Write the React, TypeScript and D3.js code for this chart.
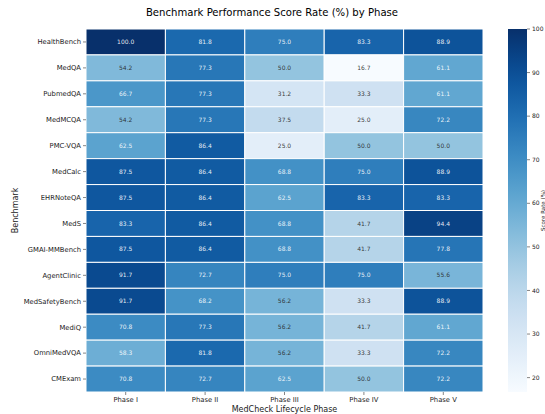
import React from "react";
import * as d3 from "d3";

const benchmarks = ["HealthBench","MedQA","PubmedQA","MedMCQA","PMC-VQA","MedCalc","EHRNoteQA","MedS","GMAI-MMBench","AgentClinic","MedSafetyBench","MediQ","OmniMedVQA","CMExam"];
const phases = ["Phase I","Phase II","Phase III","Phase IV","Phase V"];
const phaseI = [100.0,54.2,66.7,54.2,62.5,87.5,87.5,83.3,87.5,91.7,91.7,70.8,58.3,70.8];
const phaseII = [81.8,77.3,77.3,77.3,86.4,86.4,86.4,86.4,86.4,72.7,68.2,77.3,81.8,72.7];
const phaseIII = [75.0,50.0,31.2,37.5,25.0,68.8,62.5,68.8,68.8,75.0,56.2,56.2,56.2,62.5];
const phaseIV = [83.3,16.7,33.3,25.0,50.0,75.0,83.3,41.7,41.7,75.0,33.3,41.7,33.3,50.0];
const phaseV = [88.9,61.1,61.1,72.2,50.0,88.9,83.3,94.4,77.8,55.6,88.9,61.1,72.2,72.2];
const colorTicks = [20,30,40,50,60,70,80,90,100];

const series = [phaseI, phaseII, phaseIII, phaseIV, phaseV];
const FONT = "DejaVu Sans, sans-serif";

function lum(c: string) {
  const rgb = d3.rgb(c);
  const f = (v: number) => { v = v / 255; return v <= 0.03928 ? v / 12.92 : Math.pow((v + 0.055) / 1.055, 2.4); };
  return 0.2126 * f(rgb.r) + 0.7152 * f(rgb.g) + 0.0722 * f(rgb.b);
}

export default function App() {
  const W = 545, H = 414;
  const left = 86, right = 483, top = 29, bottom = 392;
  const all = series.flat();
  const vmin = d3.min(all)!, vmax = d3.max(all)!;
  const color = d3.scaleSequential(d3.interpolateBlues).domain([vmin, vmax]);
  const x = d3.scaleBand().domain(phases).range([left, right]);
  const y = d3.scaleBand().domain(benchmarks).range([top, bottom]);
  const cbX = 508, cbW = 19;
  const cy = d3.scaleLinear().domain([vmin, vmax]).range([bottom, top]);
  const stops = d3.range(0, 1.0001, 0.05);

  return (
    <svg width={W} height={H} style={{ position: "absolute", left: 0, top: 0 }} fontFamily={FONT}>
      <rect width={W} height={H} fill="white" />
      <text x={272} y={16} textAnchor="middle" fontSize={10.1} fill="#000">Benchmark Performance Score Rate (%) by Phase</text>
      {benchmarks.map((b, i) =>
        phases.map((p, j) => {
          const v = series[j][i];
          const c = color(v);
          const tc = lum(c) > 0.408 ? "#262626" : "#ffffff";
          return (
            <g key={b + p}>
              <rect x={x(p)!} y={y(b)!} width={x.bandwidth()} height={y.bandwidth()} fill={c} stroke="white" strokeWidth={1} />
              <text x={x(p)! + x.bandwidth() / 2} y={y(b)! + y.bandwidth() / 2} dy="0.35em" textAnchor="middle" fontSize={6} fill={tc} fillOpacity={0.9}>{v.toFixed(1)}</text>
            </g>
          );
        })
      )}
      {benchmarks.map((b) => (
        <g key={b}>
          <line x1={left - 3} x2={left} y1={y(b)! + y.bandwidth() / 2} y2={y(b)! + y.bandwidth() / 2} stroke="#333" strokeWidth={0.6} />
          <text x={left - 5} y={y(b)! + y.bandwidth() / 2} dy="0.35em" textAnchor="end" fontSize={6.8} fill="#222">{b}</text>
        </g>
      ))}
      {phases.map((p) => (
        <g key={p}>
          <line x1={x(p)! + x.bandwidth() / 2} x2={x(p)! + x.bandwidth() / 2} y1={bottom} y2={bottom + 3} stroke="#333" strokeWidth={0.6} />
          <text x={x(p)! + x.bandwidth() / 2} y={bottom + 10} textAnchor="middle" fontSize={6.8} fill="#222">{p}</text>
        </g>
      ))}
      <text x={(left + right) / 2} y={bottom + 20} textAnchor="middle" fontSize={8} fill="#222">MedCheck Lifecycle Phase</text>
      <text transform={`translate(18,${(top + bottom) / 2}) rotate(-90)`} textAnchor="middle" fontSize={8} fill="#222">Benchmark</text>
      <defs>
        <linearGradient id="cb" x1="0" y1="1" x2="0" y2="0">
          {stops.map((s) => (
            <stop key={s} offset={s} stopColor={color(vmin + s * (vmax - vmin))} />
          ))}
        </linearGradient>
      </defs>
      <rect x={cbX} y={top} width={cbW} height={bottom - top} fill="url(#cb)" />
      {colorTicks.map((t) => (
        <g key={t}>
          <line x1={cbX + cbW} x2={cbX + cbW + 3} y1={cy(t)} y2={cy(t)} stroke="#333" strokeWidth={0.6} />
          <text x={cbX + cbW + 5} y={cy(t)} dy="0.35em" fontSize={6} fill="#222">{t}</text>
        </g>
      ))}
      <text transform={`translate(544.5,${(top + bottom) / 2}) rotate(-90)`} textAnchor="middle" fontSize={5.5} fill="#222">Score Rate (%)</text>
    </svg>
  );
}
